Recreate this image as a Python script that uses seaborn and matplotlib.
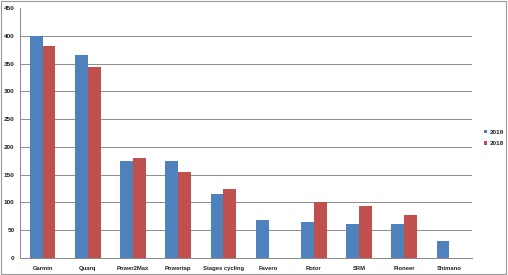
import matplotlib
matplotlib.use("Agg")
import matplotlib.pyplot as plt
import seaborn as sns
import pandas as pd
import numpy as np
from matplotlib.patches import Rectangle

brands = ["Garmin", "Quarq", "Power2Max", "Powertap", "Stages cycling",
          "Favero", "Rotor", "SRM", "Pioneer", "Shimano"]
v2019 = [400, 366, 175, 175, 116, 68, 65, 62, 62, 30]
v2018 = [382, 344, 180, 154, 125, np.nan, 100, 93, 77, np.nan]
years = ["2019", "2018"]
yticks = [0, 50, 100, 150, 200, 250, 300, 350, 400, 450]

df = pd.DataFrame({
    "brand": brands * 2,
    "year": [years[0]] * len(brands) + [years[1]] * len(brands),
    "value": v2019 + v2018,
})

sns.set_style("white")
plt.rcParams['font.family'] = ['Liberation Sans', 'DejaVu Sans']

fig = plt.figure(figsize=(5.08, 2.75), dpi=100)
ax = fig.add_axes([20/508, 1 - 258/275, 452/508, 250/275])

sns.barplot(data=df, x="brand", y="value", hue="year", order=brands,
            hue_order=years, palette=["#4F81BD", "#C0504D"],
            width=0.57, gap=0, saturation=1, ax=ax, legend=True,
            linewidth=0, edgecolor="none")

ax.set_ylim(0, 450)
ax.set_xlim(-0.5, len(brands) - 0.5)
ax.set_yticks(yticks)
ax.set_yticklabels([str(t) for t in yticks], fontsize=4.6, fontweight="bold",
                   color="#222222")
ax.set_xticks(range(len(brands)))
ax.set_xticklabels(brands, fontsize=4.2, fontweight="bold", color="#222222")
ax.tick_params(axis="x", length=0, pad=6)
ax.tick_params(axis="y", length=2, pad=2, color="#888888")
ax.set_xticks(np.arange(-0.5, len(brands), 1), minor=True)
ax.tick_params(axis="x", which="minor", length=2, color="#888888")
ax.set_xlabel("")
ax.set_ylabel("")
ax.yaxis.grid(True, color="#8c8c8c", linewidth=0.7)
ax.yaxis.get_gridlines()[-1].set_visible(False)
ax.set_axisbelow(True)
for s in ["top", "right"]:
    ax.spines[s].set_visible(False)
for s in ["left", "bottom"]:
    ax.spines[s].set_color("#888888")
    ax.spines[s].set_linewidth(0.7)

leg = ax.legend(loc="center left", bbox_to_anchor=((481 - 20) / 452, 0.48),
                frameon=False, fontsize=4.6, handlelength=0.5,
                handleheight=0.5, handletextpad=0.4, labelspacing=1.0,
                borderaxespad=0)
for t in leg.get_texts():
    t.set_fontweight("bold")
    t.set_color("#222222")

fig.patches.append(Rectangle((0.002, 0.003), 0.995, 0.993, transform=fig.transFigure,
                             fill=False, edgecolor="#999999", linewidth=0.8))

fig.savefig("out.png", dpi=100)
